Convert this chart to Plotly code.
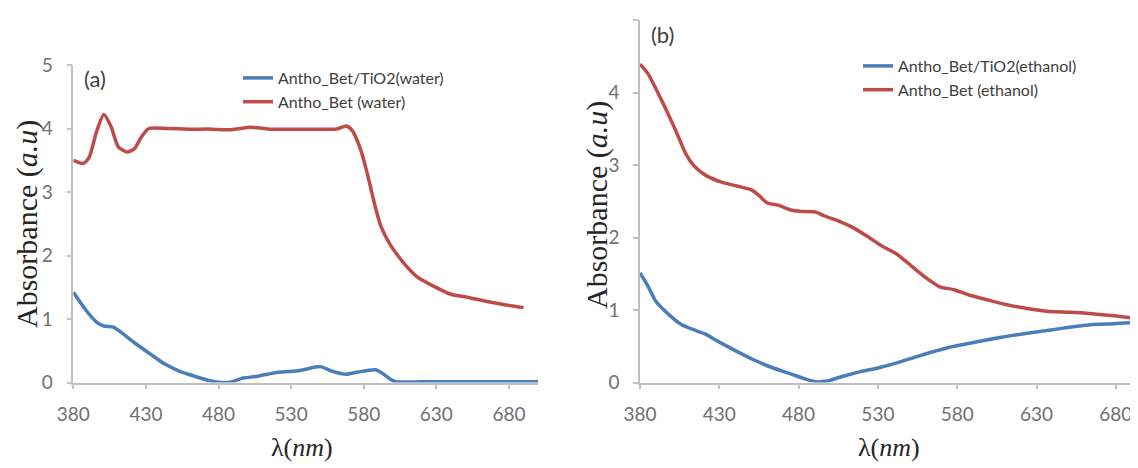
import plotly.graph_objects as go

# ---- Data: panel (a) water ----
wl_red_water = [380, 387, 391, 396, 401, 406, 411, 417, 422, 427, 432, 445, 460, 475, 489, 502, 515, 530, 545, 561, 568, 572,
                578, 583, 588, 592, 598, 608, 617, 627, 640, 652, 664, 676, 690]
abs_red_water = [3.50, 3.45, 3.55, 3.95, 4.22, 4.03, 3.71, 3.63, 3.68, 3.87, 4.00, 4.00, 3.99, 3.99, 3.98, 4.02, 3.99, 3.99, 3.99, 3.99, 4.04, 3.97,
                 3.66, 3.24, 2.76, 2.45, 2.18, 1.87, 1.66, 1.53, 1.39, 1.34, 1.28, 1.23, 1.18]

wl_blue_water = [380, 389, 396, 401, 408, 413, 423, 433, 443, 453, 462, 472, 482, 489, 497, 507, 521, 536, 550, 558, 568, 575,
                 588, 593, 600, 603, 620, 650, 680, 700]
abs_blue_water = [1.42, 1.13, 0.95, 0.89, 0.87, 0.79, 0.61, 0.45, 0.29, 0.18, 0.11, 0.04, 0.00, 0.01, 0.07, 0.10, 0.16, 0.19, 0.25, 0.18, 0.13, 0.16,
                  0.20, 0.14, 0.03, 0.01, 0.01, 0.01, 0.01, 0.01]

# ---- Data: panel (b) ethanol ----
wl_red_eth = [380, 385, 393, 402, 409, 414, 422, 432, 441, 450, 455, 460, 468, 475, 482, 491, 496, 505, 514, 523, 532, 542,
              551, 560, 569, 578, 587, 599, 610, 624, 638, 651, 665, 679, 690]
abs_red_eth = [4.39, 4.26, 3.92, 3.50, 3.15, 2.99, 2.85, 2.76, 2.71, 2.66, 2.58, 2.48, 2.44, 2.38, 2.36, 2.35, 2.30, 2.23, 2.14, 2.02, 1.89, 1.77,
               1.61, 1.45, 1.32, 1.28, 1.21, 1.14, 1.08, 1.02, 0.98, 0.97, 0.95, 0.92, 0.89]

wl_blue_eth = [380, 385, 390, 397, 406, 416, 421, 429, 441, 452, 464, 475, 484, 491, 498, 507, 519, 530, 542, 555, 564, 574,
               583, 599, 615, 631, 647, 665, 679, 694]
abs_blue_eth = [1.51, 1.33, 1.12, 0.96, 0.80, 0.71, 0.67, 0.57, 0.43, 0.31, 0.20, 0.12, 0.05, 0.01, 0.02, 0.08, 0.15, 0.20, 0.27, 0.36, 0.42, 0.48,
                0.52, 0.59, 0.65, 0.70, 0.75, 0.80, 0.81, 0.83]

x_ticks = [380, 430, 480, 530, 580, 630, 680]
y_ticks = [0, 1, 2, 3, 4, 5]

BLUE = "#4A7EBB"
RED = "#BE4B48"
GRAY_AX = "#BFBFBF"
TICK_COL = "#707070"
SANS = "Lato, Open Sans, sans-serif"
SERIF = "Liberation Serif, Times New Roman, serif"

# page body adds an 8px margin; the figure is sized/offset to compensate
OFF = 8
W, H = 1138 - OFF, 468 - OFF

def px(x):
    return (x - OFF) / W

def py(y):
    return (H - (y - OFF)) / H

fig = go.Figure()
fig.add_trace(go.Scatter(x=wl_blue_water, y=abs_blue_water, mode="lines", name="Antho_Bet/TiO2(water)",
                         line=dict(color=BLUE, width=3.5, shape="spline", smoothing=0.6), xaxis="x", yaxis="y", legend="legend"))
fig.add_trace(go.Scatter(x=wl_red_water, y=abs_red_water, mode="lines", name="Antho_Bet (water)",
                         line=dict(color=RED, width=3.5, shape="spline", smoothing=0.6), xaxis="x", yaxis="y", legend="legend"))
fig.add_trace(go.Scatter(x=wl_blue_eth, y=abs_blue_eth, mode="lines", name="Antho_Bet/TiO2(ethanol)",
                         line=dict(color=BLUE, width=3.5, shape="spline", smoothing=0.6), xaxis="x2", yaxis="y2", legend="legend2"))
fig.add_trace(go.Scatter(x=wl_red_eth, y=abs_red_eth, mode="lines", name="Antho_Bet (ethanol)",
                         line=dict(color=RED, width=3.5, shape="spline", smoothing=0.6), xaxis="x2", yaxis="y2", legend="legend2"))

xaxis_common = dict(tickvals=x_ticks, showgrid=False, zeroline=False, showline=True, linecolor=GRAY_AX, linewidth=1.5,
                    ticks="outside", ticklen=5, tickcolor=GRAY_AX, tickwidth=1.5, automargin=False,
                    tickfont=dict(family=SANS, size=19, color=TICK_COL), ticklabelstandoff=9)
yaxis_common = dict(tickvals=y_ticks, range=[0, 5], showgrid=False, zeroline=False, showline=True, linecolor=GRAY_AX, linewidth=1.5,
                    ticks="outside", ticklen=5, tickcolor=GRAY_AX, tickwidth=1.5, automargin=False,
                    tickfont=dict(family=SANS, size=19, color=TICK_COL), ticklabelstandoff=10)

fig.update_layout(
    width=W, height=H,
    margin=dict(l=0, r=0, t=0, b=0, pad=0),
    paper_bgcolor="white", plot_bgcolor="white",
    xaxis=dict(domain=[px(73.3), px(538)], range=[380, 700], anchor="y", **xaxis_common),
    yaxis=dict(domain=[py(382.5), py(65)], anchor="x", **yaxis_common),
    xaxis2=dict(domain=[px(640), 1.0], range=[380, 694], anchor="y2", **xaxis_common),
    yaxis2=dict(domain=[py(382.5), py(20)], anchor="x2", **yaxis_common),
    legend=dict(x=px(238), y=py(61), xanchor="left", yanchor="top", bgcolor="rgba(0,0,0,0)",
                font=dict(family=SANS, size=16, color="#404040"), tracegroupgap=0),
    legend2=dict(x=px(858), y=py(49), xanchor="left", yanchor="top", bgcolor="rgba(0,0,0,0)",
                 font=dict(family=SANS, size=16, color="#404040"), tracegroupgap=0),
    showlegend=True,
)

ann = [
    dict(text="(a)", x=px(95), y=py(78), font=dict(family=SANS, size=22, color="#404040")),
    dict(text="(b)", x=px(662), y=py(34), font=dict(family=SANS, size=22, color="#404040")),
    dict(text="Absorbance (<i>a.u</i>)", x=px(27), y=py(224), textangle=-90, font=dict(family=SERIF, size=30, color="#262626")),
    dict(text="Absorbance (<i>a.u</i>)", x=px(597), y=py(205), textangle=-90, font=dict(family=SERIF, size=30, color="#262626")),
    dict(text="λ(<i>nm</i>)", x=px(302), y=py(447), font=dict(family=SERIF, size=26, color="#262626")),
    dict(text="λ(<i>nm</i>)", x=px(889), y=py(447), font=dict(family=SERIF, size=26, color="#262626")),
]
for a in ann:
    fig.add_annotation(xref="paper", yref="paper", showarrow=False, xanchor="center", yanchor="middle", **a)

fig.write_html("out.html")
